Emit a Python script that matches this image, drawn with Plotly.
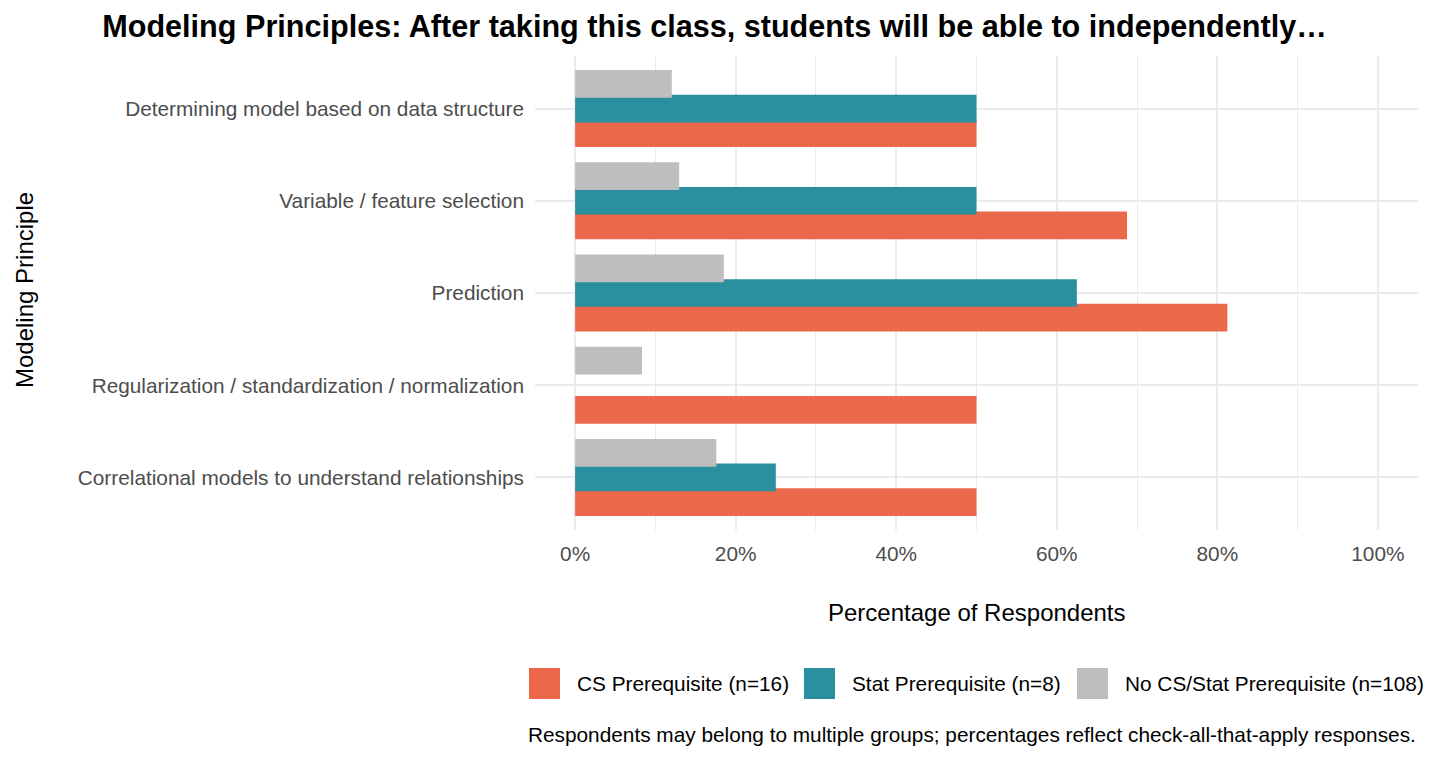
import plotly.graph_objects as go

categories = [
    "Correlational models to understand relationships",
    "Regularization / standardization / normalization",
    "Prediction",
    "Variable / feature selection",
    "Determining model based on data structure",
]
cs_prereq = [0.50, 0.50, 0.8125, 0.6875, 0.50]
stat_prereq = [0.25, 0.0, 0.625, 0.50, 0.50]
no_prereq = [0.1759, 0.0833, 0.1852, 0.1296, 0.1204]

series_names = ["CS Prerequisite (n=16)", "Stat Prerequisite (n=8)", "No CS/Stat Prerequisite (n=108)"]
colors = ["#EB684A", "#2A8F9E", "#BEBEBE"]
bar_offsets = [-0.417, -0.15, 0.117]
bar_width = 0.3

W, H = 1429, 759
L, R, T, B = 535, 11, 56, 229
pw = W - L - R
ph = H - T - B

def py(pix):
    return (T + ph - pix) / ph

def px(pix):
    return (pix - L) / pw

font = "Liberation Sans, Arial, sans-serif"

fig = go.Figure()
for name, vals, col, off in zip(series_names, [cs_prereq, stat_prereq, no_prereq], colors, bar_offsets):
    fig.add_trace(go.Bar(
        y=categories, x=vals, name=name, orientation="h",
        offset=off, width=bar_width,
        marker=dict(color=col, line=dict(width=0)),
        showlegend=False,
    ))

fig.update_layout(
    width=W, height=H,
    margin=dict(l=L, r=R, t=T, b=B),
    barmode="overlay",
    plot_bgcolor="white", paper_bgcolor="white",
    font=dict(family=font, size=21, color="#4D4D4D"),
    title=dict(
        text="<b>Modeling Principles: After taking this class, students will be able to independently…</b>",
        x=0.5, xref="container", xanchor="center",
        y=1 - 26 / H, yref="container", yanchor="middle",
        font=dict(family=font, size=30.6, color="black"),
    ),
    showlegend=False,
)
fig.update_xaxes(
    range=[-0.05, 1.05], tickvals=[0, 0.2, 0.4, 0.6, 0.8, 1.0], tickformat=".0%",
    showgrid=True, gridcolor="#EBEBEB", gridwidth=1.6, zeroline=False,
    minor=dict(dtick=0.1, tick0=0, showgrid=True, gridcolor="#EBEBEB", gridwidth=1.1),
    ticks="", ticklabelstandoff=9, showline=False,
    tickfont=dict(size=20.8, color="#4D4D4D"),
)
fig.update_yaxes(
    categoryorder="array", categoryarray=categories, range=[-0.57, 4.57],
    showgrid=True, gridcolor="#EBEBEB", gridwidth=1.6, zeroline=False,
    ticks="", ticklabelstandoff=10, showline=False,
    tickfont=dict(size=20.8, color="#4D4D4D"),
)
fig.add_annotation(
    text="Percentage of Respondents", xref="paper", yref="paper",
    x=0.5, y=py(612), xanchor="center", yanchor="middle",
    showarrow=False, font=dict(family=font, size=24, color="black"),
)
fig.add_annotation(
    text="Modeling Principle", xref="paper", yref="paper",
    x=px(24), y=py(290), xanchor="center", yanchor="middle",
    textangle=-90, showarrow=False, font=dict(family=font, size=24, color="black"),
)
fig.add_annotation(
    text="Respondents may belong to multiple groups; percentages reflect check-all-that-apply responses.",
    xref="paper", yref="paper", x=px(1418), y=py(734), xanchor="right", yanchor="middle",
    showarrow=False, font=dict(family=font, size=20.8, color="black"),
)

# legend (drawn as keys + labels to match the large square keys)
legend_key_x = [529, 804, 1077]
for name, col, kx in zip(series_names, colors, legend_key_x):
    fig.add_shape(
        type="rect", xref="paper", yref="paper",
        x0=px(kx), x1=px(kx + 31), y0=py(699), y1=py(668),
        fillcolor=col, line=dict(width=0),
    )
    fig.add_annotation(
        text=name, xref="paper", yref="paper",
        x=px(kx + 46), y=py(683), xanchor="left", yanchor="middle",
        showarrow=False, font=dict(family=font, size=20.8, color="black"),
    )

fig.write_html("out.html")
